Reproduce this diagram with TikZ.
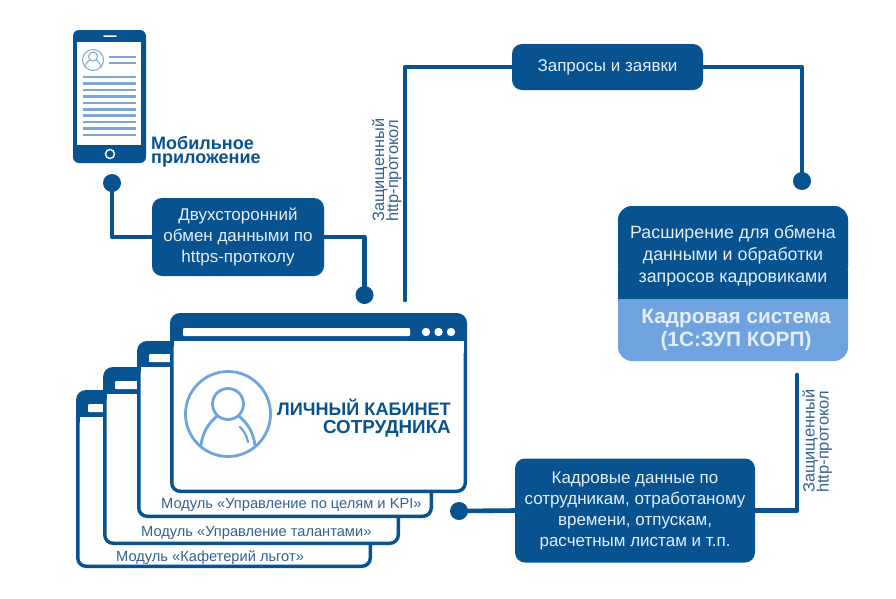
\documentclass[tikz,border=0pt]{standalone}
\usepackage{fontspec}
\setmainfont{Liberation Sans}
\usetikzlibrary{calc}
\definecolor{navy}{HTML}{07528F}
\definecolor{sky}{HTML}{6FA3E0}
\definecolor{phoneline}{HTML}{7FA6D2}
\definecolor{softwhite}{HTML}{E4EEF9}
\definecolor{softtext}{HTML}{33628F}
\newcommand{\winframe}[7]{%
  % x1 y1 x2 y2 bandbottom barleft barright
  \fill[navy,rounded corners=10pt] (#1,#2) rectangle (#3,#4);
  \fill[white,rounded corners=7pt] (#1+3.5,#5) rectangle (#3-3.5,#4-3.5);
  \fill[white] (#1+3.5,#5) rectangle (#3-3.5,#5+12);
  \fill[white,rounded corners=1pt] (#6,#5-13) rectangle (#7,#5-5);
}
\tikzset{
  wire/.style={navy,line width=4.6pt,line join=round,line cap=round},
  dotnode/.style={circle,fill=navy,minimum size=18pt,inner sep=0pt},
  darkbox/.style={fill=navy,rounded corners=10pt,text=softwhite,align=center,inner sep=0pt,font=\fontsize{17}{21}\selectfont},
  modlabel/.style={anchor=base west,inner sep=0pt,text=softtext,font=\fontsize{14.65}{16}\selectfont},
  rotlabel/.style={anchor=base west,rotate=90,inner sep=0pt,text=softtext,font=\fontsize{16.4}{15}\selectfont},
  avatar/.style={sky,line width=2.8pt,line cap=round},
  titletext/.style={anchor=base east,inner sep=0pt,text=navy,font=\bfseries\fontsize{18.1}{20}\selectfont},
  titletextb/.style={anchor=base east,inner sep=0pt,text=navy,font=\bfseries\fontsize{18.8}{20}\selectfont},
  apptext/.style={anchor=north west,inner sep=0pt,align=left,text=navy,font=\bfseries\fontsize{18}{14.5}\selectfont},
  hrtext/.style={anchor=base,inner sep=0pt,text=softwhite,font=\bfseries\fontsize{20.8}{22}\selectfont},
  exttext/.style={anchor=base,inner sep=0pt,text=softwhite,font=\fontsize{17.8}{18}\selectfont},
}
\begin{document}
\begin{tikzpicture}[x=1pt,y=-1pt]
\useasboundingbox (0,0) rectangle (896,598);
\fill[white] (0,0) rectangle (896,598);

% phone
\fill[navy,rounded corners=6pt] (73,30) rectangle (146,163);
\fill[white] (77,42) rectangle (141,145);
\fill[white,rounded corners=1pt] (103,35.3) rectangle (117,36.8);
\draw[white,line width=1.4pt] (110,154) circle[radius=4.5];
\draw[phoneline,line width=1pt] (93,60) circle[radius=10.5];
\draw[phoneline,line width=1pt] (93,56.5) circle[radius=4.5];
\draw[phoneline,line width=1pt] (85,67) .. controls (86,62) and (89,61) .. (90,60);
\draw[phoneline,line width=1pt] (101,67) .. controls (100,62) and (97,61) .. (96,60);
\foreach \yy in {57,63}{\draw[phoneline,line width=2.5pt] (109,\yy) -- (136,\yy);}
\foreach \ii in {0,...,9}{\draw[phoneline,line width=2.5pt] (83,77+\ii*6.45) -- (136,77+\ii*6.45);}
\node[apptext] (app) at (151,136) {Мобильное\\приложение};

% nodes
\node[dotnode] (dotA) at (112,183) {};
\node[dotnode] (dotB) at (364.5,295) {};
\node[dotnode] (dotC) at (802,181) {};
\node[dotnode] (dotD) at (459,511) {};
\coordinate (endE) at (405,300);
\coordinate (endF) at (797,375);

\node[darkbox,minimum width=172pt,minimum height=78pt] (boxA) at (238,237)
  {Двухсторонний\\обмен данными по\\https-протколу};
\node[darkbox,minimum width=191pt,minimum height=46pt] (boxB) at (607.5,67) {Запросы и заявки};
\node[darkbox,minimum width=240pt,minimum height=104pt] (boxC) at (635,510.5)
  {Кадровые данные по\\сотрудникам, отработаному\\времени, отпускам,\\расчетным листам и т.п.};

% connectors
\draw[wire] (dotA) |- (boxA.west);
\draw[wire] (boxA.east) -| (dotB);
\draw[wire] (endE) |- (boxB.west);
\draw[wire] (boxB.east) -| (dotC);
\draw[wire] (dotD) -- (boxC.west);
\draw[wire] (boxC.east) -| (endF);

% rotated labels
\node[rotlabel] (ra) at (384,222) {Защищенный};
\node[rotlabel] (rb) at (398,222) {http-протокол};
\node[rotlabel] (rc) at (814.5,493) {Защищенный};
\node[rotlabel] (rd) at (828.5,493) {http-протокол};

% HR system box
\fill[sky,rounded corners=14pt] (618,206) rectangle (848,361);
\fill[navy,rounded corners=14pt] (618,206) rectangle (848,280);
\fill[navy] (618,270) rectangle (848,299);
\node[exttext] (ea) at (733,238) {Расширение для обмена};
\node[exttext] (eb) at (733,260) {данными и обработки};
\node[exttext] (ec) at (733,282.5) {запросов кадровиками};
\node[hrtext] (ha) at (736,323) {Кадровая система};
\node[hrtext] (hb) at (736,346) {(1С:ЗУП КОРП)};

% windows stack
\winframe{76}{390}{372}{568}{417}{88}{110}
\node[modlabel] (m3) at (116,561) {Модуль «Кафетерий льгот»};
\winframe{103}{367}{400}{545}{394}{115}{140}
\node[modlabel] (m2) at (141,536) {Модуль «Управление талантами»};
\winframe{137}{341}{433}{518}{367}{149}{175}
\node[modlabel] (m1) at (161,508) {Модуль «Управление по целям и KPI»};
\winframe{170}{313}{467}{493}{341}{183}{410}
\foreach \xx in {426,438.5,451}{\fill[white] (\xx,332) circle[radius=4.2];}

% avatar
\draw[avatar] (228,414) circle[radius=42.5];
\draw[avatar] (228,404) circle[radius=15.5];
\draw[avatar] (201,445) .. controls (203,431) and (209,423) .. (217,416);
\draw[avatar] (255,445) .. controls (253,431) and (247,423) .. (239,416);
\draw[avatar,line width=2.2pt] (240,427) .. controls (244,431) and (247,436) .. (248,442);

\node[titletext] (ta) at (451,415) {ЛИЧНЫЙ КАБИНЕТ};
\node[titletextb] (tb) at (451,433) {СОТРУДНИКА};
\end{tikzpicture}
\end{document}
